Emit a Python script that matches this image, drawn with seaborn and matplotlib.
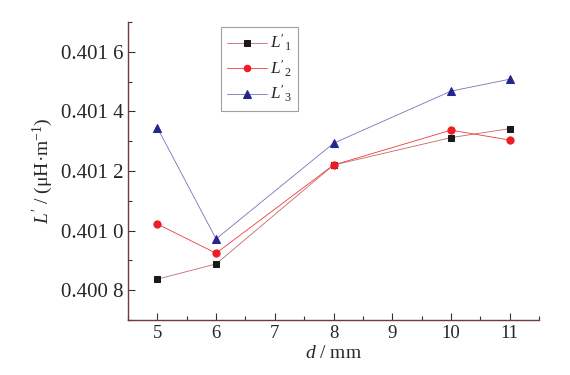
import numpy as np
import pandas as pd
import matplotlib
matplotlib.use('Agg')
import matplotlib.pyplot as plt
import seaborn as sns
from matplotlib.ticker import FuncFormatter, MultipleLocator

# data
d_mm = [5, 6, 8, 10, 11]
L1 = [0.400837, 0.400888, 0.401220, 0.401312, 0.401342]
L2 = [0.401022, 0.400924, 0.401220, 0.401337, 0.401304]
L3 = [0.401345, 0.400972, 0.401293, 0.401468, 0.401508]
labels = [r"$L'_{1}$", r"$L'_{2}$", r"$L'_{3}$"]

sns.set_style('ticks')
plt.rcParams['font.family'] = ['Liberation Serif', 'DejaVu Serif']
plt.rcParams['mathtext.fontset'] = 'custom'
plt.rcParams['mathtext.rm'] = 'Liberation Serif'
plt.rcParams['mathtext.it'] = 'Liberation Serif:italic'
plt.rcParams['mathtext.fallback'] = 'stix'

df = pd.DataFrame({'d': d_mm * 3,
                   'L': L1 + L2 + L3,
                   'series': sum([[s] * len(d_mm) for s in labels], [])})

fig = plt.figure(figsize=(5.7, 3.75), dpi=100)
ax = fig.add_axes([0.2246, 0.1467, 0.721, 0.7946])

line_cols = ['#c06a6a', '#f03a3a', '#7a72b8']
mark_cols = ['#1a1a1a', '#ee1c25', '#25258f']
markers = ['s', 'o', '^']
msizes = [4.5, 5.2, 5.8]
for lab, lc, mc, mk, ms in zip(labels, line_cols, mark_cols, markers, msizes):
    sub = df[df['series'] == lab]
    sns.lineplot(data=sub, x='d', y='L', ax=ax, color=lc, lw=0.6,
                 marker=mk, markersize=ms, markerfacecolor=mc,
                 markeredgecolor=mc, label=lab)

ax.set_xlim(4.5, 11.5)
ax.set_ylim(0.4007, 0.4017)
ax.xaxis.set_major_locator(MultipleLocator(1))
ax.xaxis.set_minor_locator(MultipleLocator(0.5))
ax.yaxis.set_major_locator(MultipleLocator(0.0002))
ax.yaxis.set_minor_locator(MultipleLocator(0.0001))

def fmt(v, pos):
    s = '%.4f' % v
    return s[:-1] + ' ' + s[-1]
ax.yaxis.set_major_formatter(FuncFormatter(fmt))

spine_col = '#6e3c3c'
for s in ['top', 'right']:
    ax.spines[s].set_visible(False)
for s in ['left', 'bottom']:
    ax.spines[s].set_color(spine_col)
    ax.spines[s].set_linewidth(1.0)
ax.tick_params(which='both', direction='in', color='#333333', width=0.8)
ax.tick_params(which='major', length=5)
ax.tick_params(which='minor', length=3)
ax.tick_params(axis='y', labelsize=15)
ax.tick_params(axis='x', labelsize=13.5)

ax.set_xlabel("$d$ / mm", fontsize=14, labelpad=2)
ax.set_ylabel("$L'$ / (μH·m$^{-1}$)", fontsize=14, labelpad=4)

leg = ax.legend(loc='upper left', bbox_to_anchor=(0.226, 0.983), fontsize=12.5,
                frameon=True, fancybox=False, edgecolor='#888888',
                handlelength=2.3, handletextpad=0.2, borderpad=0.35,
                borderaxespad=0, labelspacing=0.3, markerscale=0.9)
leg.get_frame().set_linewidth(0.8)

plt.savefig('out.png', dpi=100)
